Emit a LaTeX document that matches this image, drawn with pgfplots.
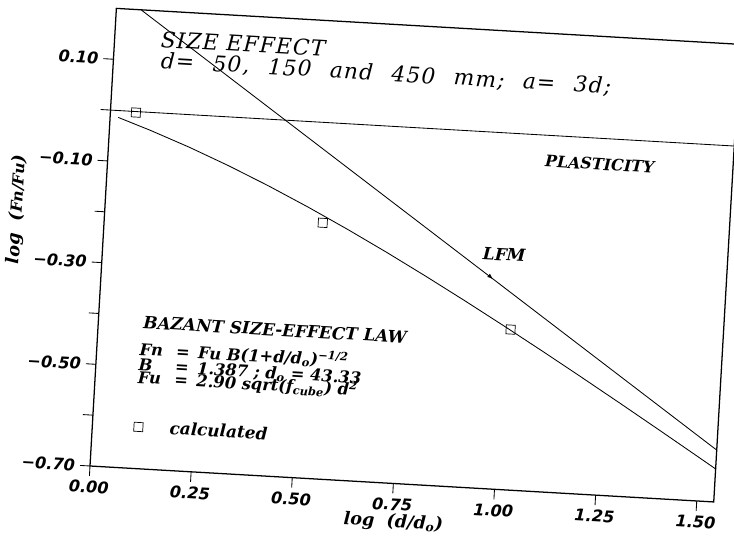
\documentclass[border=0pt]{standalone}
\usepackage{fontspec}
\setmainfont{DejaVu Serif}
\newfontfamily\titlefont[LetterSpace=5]{DejaVu Serif}
\newfontfamily\tickfont{DejaVu Sans}
\usepackage{pgfplots}
\pgfplotsset{compat=1.18}
\usetikzlibrary{arrows.meta}

\newcommand\ann{\bfseries\itshape\fontsize{12}{12}\selectfont}
\newcommand\frm{\bfseries\itshape\fontsize{11.6}{10}\selectfont}

\begin{document}
\begin{tikzpicture}
\begin{scope}[transform canvas={rotate around={-3.3:(2.25cm,1.8cm)}}]
\begin{axis}[
    at={(2.25cm,1.8cm)}, anchor=south west,
    scale only axis, width=15.62cm, height=11.46cm,
    xmin=0, xmax=1.542, ymin=-0.7, ymax=0.2,
    axis line style={line width=0.9pt},
    tick align=outside, tick pos=left,
    major tick length=0.25cm,
    tick style={line width=0.6pt, black},
    xtick={0,0.25,0.5,0.75,1,1.25,1.5},
    xticklabels={0.00,0.25,0.50,0.75,1.00,1.25,1.50},
    ytick={-0.7,-0.6,-0.5,-0.4,-0.3,-0.2,-0.1,0,0.1},
    yticklabels={−0.70,,−0.50,,−0.30,,−0.10,,0.10},
    ticklabel style={font=\tickfont\bfseries\itshape\fontsize{11.5}{12}\selectfont},
    xlabel={log~~(d/d\textsubscript{o})},
    ylabel={log~~({\fontsize{11}{11}\selectfont Fn/Fu})},
    label style={font=\bfseries\itshape\fontsize{12.5}{13}\selectfont},
    xlabel style={at={(axis description cs:0.49,-0.085)}, anchor=center},
    ylabel style={at={(axis description cs:-0.14,0.55)}, anchor=center},
    legend style={at={(axis cs:0.102,-0.618)}, anchor=west, draw=none, fill=none,
        font=\bfseries\itshape\fontsize{12}{12}\selectfont, inner sep=0pt},
    legend cell align=left,
]
% plasticity limit
\addplot[black, line width=0.6pt, forget plot] coordinates {(0,0) (1.542,0)};
% LFM asymptote
\addplot[black, line width=0.6pt, forget plot] coordinates {(0.061,0.2) (1.542,-0.598)};
% Bazant size-effect law
\addplot[black, line width=0.6pt, forget plot] coordinates {
  (0.02,-0.0135) (0.1,-0.0349) (0.2,-0.0641) (0.3,-0.0961) (0.4,-0.1307)
  (0.5,-0.1676) (0.6,-0.2066) (0.7,-0.2474) (0.8,-0.2899) (0.9,-0.3337)
  (1.0,-0.3786) (1.1,-0.4245) (1.2,-0.4712) (1.3,-0.5185) (1.4,-0.5664)
  (1.5,-0.6147) (1.542,-0.6351)
};
% calculated
\addplot[black, only marks, mark=square, mark size=3.2pt, line width=0.5pt]
  coordinates {(0.063,-0.002) (0.539,-0.197) (1.017,-0.385)};
\addlegendentry{\hspace{0.6cm}calculated}

\node[anchor=base west, font=\titlefont\itshape\fontsize{15.5}{16}\selectfont]
  at (axis cs:0.102,0.129) {SIZE EFFECT};
\node[anchor=base west, font=\titlefont\itshape\fontsize{15.5}{16}\selectfont]
  at (axis cs:0.105,0.088) {\spaceskip=0.85em d= 50, 150 and 450 mm; a= 3d;};
\node[anchor=base west, font=\bfseries\itshape\fontsize{11.3}{12}\selectfont]
  at (axis cs:1.066,-0.062) {PLASTICITY};
\node[anchor=base west, font=\ann] at (axis cs:0.926,-0.251) {LFM};
\draw[-{Latex[length=4pt,width=3pt]}, line width=0.4pt] (axis cs:0.955,-0.281) -- (axis cs:0.966,-0.288);
\node[anchor=base west, font=\ann] at (axis cs:0.099,-0.424) {BAZANT SIZE-EFFECT LAW};
\node[anchor=base west, font=\frm, inner sep=0pt] at (axis cs:0.105,-0.477)
  {\makebox[26pt][l]{Fn}=\hspace{6pt}Fu B(1+d/d\textsubscript{o})\textsuperscript{−1/2}};
\node[anchor=base west, font=\frm, inner sep=0pt] at (axis cs:0.105,-0.508)
  {\makebox[26pt][l]{B}=\hspace{6pt}1.387 ; d\textsubscript{o} = 43.33};
\node[anchor=base west, font=\frm, inner sep=0pt] at (axis cs:0.105,-0.532)
  {\makebox[26pt][l]{Fu}=\hspace{6pt}2.90 sqrt(f\textsubscript{cube}) d\textsuperscript{2}};
\end{axis}
\end{scope}
\pgfresetboundingbox
\path[use as bounding box] (0,0) rectangle (18.35cm,13.45cm);
\end{tikzpicture}
\end{document}
